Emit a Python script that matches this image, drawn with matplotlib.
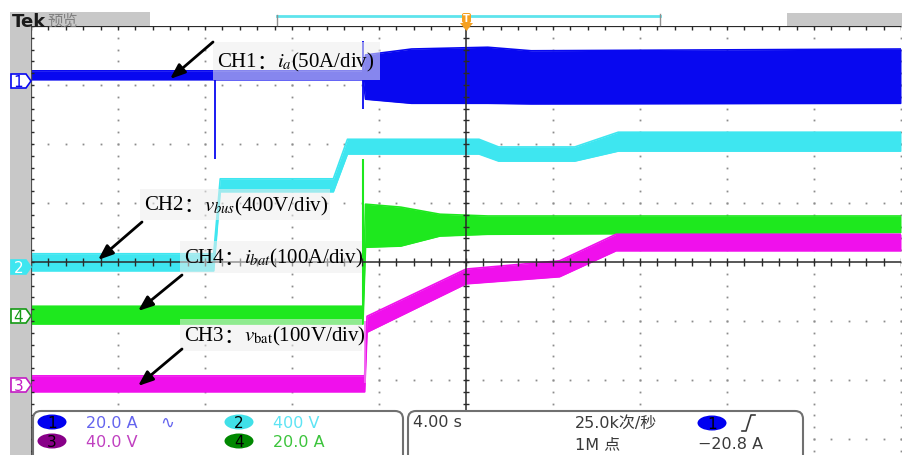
"""
redraw the scope capture of the charger start-up: phase current, bus voltage,
battery current and battery voltage on one Tek screen

run it with:
    python plot.py
"""

import matplotlib

matplotlib.use("Agg")
import matplotlib.pyplot as plt
import numpy as np
from matplotlib.patches import Ellipse, FancyBboxPatch, Polygon, Rectangle

plt.rcParams["mathtext.fontset"] = "stix"

# time axis of the scope: 10 divisions of 4 s, trigger in the middle
sec_per_div = 4.0
t_left, t_right = -20.0, 20.0

# every trace is a thick noisy band, so keep its upper and lower edge (divisions)
ch1_t = [-20, -4.72, -4.62, -2.5, 1.0, 3.0, 20]
ch1_hi = [3.24, 3.24, 3.51, 3.61, 3.64, 3.58, 3.61]
ch1_lo = [3.09, 3.09, 2.76, 2.69, 2.69, 2.68, 2.69]

ch2_t = [-20, -11.6, -11.3, -6.1, -5.45, 0.6, 1.5, 5.0, 7.0, 20]
ch2_hi = [0.14, 0.14, 1.41, 1.41, 2.08, 2.08, 1.95, 1.95, 2.20, 2.20]
ch2_lo = [-0.15, -0.15, 1.19, 1.19, 1.83, 1.83, 1.71, 1.71, 1.88, 1.88]

ch4_t = [-20, -4.74, -4.62, -3.0, -1.2, 1.0, 20]
ch4_hi = [-0.75, -0.75, 0.98, 0.93, 0.81, 0.78, 0.78]
ch4_lo = [-1.05, -1.05, 0.25, 0.27, 0.44, 0.47, 0.50]

ch3_t = [-20, -4.66, -4.55, 0.0, 4.3, 6.9, 20]
ch3_hi = [-1.93, -1.93, -0.92, -0.12, 0.02, 0.47, 0.47]
ch3_lo = [-2.20, -2.20, -1.19, -0.37, -0.25, 0.19, 0.19]

# single fast spikes that stick out of the bands
ch1_spike_t = [-11.54, -4.72]
ch1_spike_top = [3.10, 3.75]
ch1_spike_bottom = [1.75, 2.59]
ch4_spike_t = [-4.74]
ch4_spike_top = [1.75]
ch4_spike_bottom = [-0.90]
ch3_spike_t = [-4.64]
ch3_spike_top = [-1.00]
ch3_spike_bottom = [-2.05]

# annotation texts: channel, separator, signal and scale
label_ch1 = ["CH1", "：", "$i_a$(50A/div)"]
label_ch2 = ["CH2", "：", "$v_{bus}$(400V/div)"]
label_ch4 = ["CH4", "：", "$i_{bat}$(100A/div)"]
label_ch3 = ["CH3", "：", "$v_{\\mathrm{bat}}$(100V/div)"]

# readout at the bottom of the screen
channel_names = ["1", "2", "3", "4"]
channel_scales = ["20.0 A", "400 V", "40.0 V", "20.0 A"]
timebase = "4.00 s"
sample_rate = "25.0k次/秒"
record_length = "1M 点"
trigger_level = "−20.8 A"

blue = "#0808f0"
cyan = "#3ee6f0"
green = "#1ee81e"
magenta = "#f010ec"

W, H = 903, 456
fig = plt.figure(figsize=(W / 100, H / 100), dpi=100)

# graticule: 59 px per division vertically, centre line at y=263 px
px_div_y = 59.0
top_px, centre_px = 27, 263
y_top = 4.0
y_bottom = (centre_px - H) / px_div_y
ax = fig.add_axes([31 / W, 0, 870 / W, (H - top_px) / H])
ax.set_xlim(t_left, t_right)
ax.set_ylim(y_bottom, y_top)
ax.axis("off")

# dotted graticule
grid_col = "#8c8c8c"
major_t = np.arange(-16, 20.1, sec_per_div)
major_t = major_t[major_t != 0]
small_y = np.arange(-4, 4.01, 0.2)
for t in major_t:
    ax.plot(np.full(small_y.size, t), small_y, ls="none", marker="s",
            ms=1.3, color=grid_col, mec="none", zorder=1)
small_t = np.arange(t_left, t_right + 0.01, 0.8)
for y in [-3, -2, -1, 1, 2, 3]:
    ax.plot(small_t, np.full(small_t.size, y), ls="none", marker="s",
            ms=1.3, color=grid_col, mec="none", zorder=1)

# the four traces, bands first then the spikes
for tt, hi, lo, col in [(ch2_t, ch2_hi, ch2_lo, cyan),
                        (ch4_t, ch4_hi, ch4_lo, green),
                        (ch3_t, ch3_hi, ch3_lo, magenta),
                        (ch1_t, ch1_hi, ch1_lo, blue)]:
    ax.fill_between(tt, lo, hi, color=col, lw=0, zorder=2)
    ax.plot(tt, hi, color=col, lw=1.2, zorder=2)
    ax.plot(tt, lo, color=col, lw=1.2, zorder=2)

ax.vlines(ch4_spike_t, ch4_spike_bottom, ch4_spike_top, color=green, lw=1.5, zorder=2)
ax.vlines(ch3_spike_t, ch3_spike_bottom, ch3_spike_top, color="#f070f0", lw=1.2, zorder=2)
ax.vlines(ch1_spike_t, ch1_spike_bottom, ch1_spike_top, color=blue, lw=1.3, zorder=3)

# centre cross with its small ticks
axis_col = "#2a2a2a"
ax.axhline(0, color=axis_col, lw=1.1, zorder=4)
ax.axvline(0, color=axis_col, lw=1.1, zorder=4)
ax.vlines(small_t, -0.06, 0.06, color=axis_col, lw=1, zorder=4)
ax.hlines(small_y, -0.16, 0.16, color=axis_col, lw=1, zorder=4)

# screen border on top and left
ax.axhline(y_top, color=axis_col, lw=1.6, zorder=4)
ax.vlines(small_t, y_top - 0.07, y_top, color=axis_col, lw=1, zorder=4)
ax.axvline(t_left, color="#505050", lw=1.6, zorder=4)
ax.hlines(small_y, t_left, t_left + 0.12, color=axis_col, lw=1, zorder=4)

# everything around the graticule is drawn in screen pixels
ov = fig.add_axes([0, 0, 1, 1])
ov.set_xlim(0, W)
ov.set_ylim(H, 0)
ov.axis("off")
ov.patch.set_alpha(0)

# grey frame of the Tek screen
ov.add_patch(Rectangle((10, 13), 21, H - 13, color="#c8c8c8", lw=0))
ov.add_patch(Rectangle((10, 13), 140, 14, color="#c8c8c8", lw=0))
ov.add_patch(Rectangle((787, 14), W - 787, 13, color="#c8c8c8", lw=0))
ov.text(12, 27, "Tek", fontsize=13, fontweight="bold", color="#1a1a1a",
        va="baseline", family="DejaVu Sans")
ov.text(47, 26, "预览", fontsize=11, color="#808080", va="baseline",
        family=["Noto Sans CJK SC", "DejaVu Sans"])
ov.add_patch(Rectangle((0, 0), 160, 13, color="white", lw=0, zorder=3))

# horizontal position bar and trigger flag
ov.plot([277, 660], [17, 17], color="#5ee4ec", lw=2)
ov.plot([277, 277], [16, 26], color="#909090", lw=1)
ov.plot([660, 660], [15, 26], color="#909090", lw=1)
ov.add_patch(FancyBboxPatch((462, 14), 9, 10, boxstyle="round,pad=0,rounding_size=2",
                            fc="#f5a020", ec="none", zorder=5))
ov.add_patch(Polygon([(460, 24), (473, 24), (466.5, 32)], closed=True,
                     fc="#f5a020", ec="none", zorder=5))
ov.text(466.5, 19.5, "T", fontsize=7, color="white", ha="center", va="center",
        fontweight="bold", zorder=6)

# channel ground markers at the left edge
for name, cy, edge, face, txt in [("1", 82, blue, "white", blue),
                                  ("2", 268, cyan, cyan, "white"),
                                  ("4", 317, "#149a14", "white", "#149a14"),
                                  ("3", 386, "#c41cc4", "white", "#c41cc4")]:
    pts = [(11, cy - 7), (26, cy - 7), (31, cy), (26, cy + 7), (11, cy + 7)]
    ov.add_patch(Polygon(pts, closed=True, fc=face, ec=edge, lw=1.2, zorder=5))
    ov.text(18.5, cy + 0.5, name, fontsize=11, color=txt, ha="center", va="center",
            family="DejaVu Sans", zorder=6)

# label boxes (see-through, the traces show lighter behind them) and arrows
renderer = fig.canvas.get_renderer()
part_fonts = ["Liberation Serif", "Noto Sans CJK SC", "Liberation Serif"]


def put_label(parts, x, y):
    # write the pieces one after the other, the colon needs the CJK font
    for piece, family in zip(parts, part_fonts):
        txt = ov.text(x, y, piece, fontsize=15, color="black", va="center",
                      ha="left", family=family, zorder=6)
        x = txt.get_window_extent(renderer).x1


for parts, x0, y0, x1, y1 in [(label_ch1, 213, 43, 380, 81),
                              (label_ch2, 140, 190, 330, 221),
                              (label_ch4, 180, 242, 362, 274),
                              (label_ch3, 180, 320, 362, 352)]:
    ov.add_patch(Rectangle((x0, y0), x1 - x0, y1 - y0, fc="#eeeeee",
                           alpha=0.55, lw=0, zorder=4))
    put_label(parts, x0 + 4, (y0 + y1) / 2 + 0.5)

for tail, head in [((213, 43), (170, 80)),
                   ((142, 223), (98, 261)),
                   ((182, 276), (138, 312)),
                   ((182, 350), (138, 387))]:
    ov.annotate("", xy=head, xytext=tail,
                arrowprops=dict(arrowstyle="-|>,head_length=0.9,head_width=0.35",
                                color="black", lw=2, shrinkA=0, shrinkB=0),
                zorder=7)

# readout panel
panel_edge = "#707070"
ov.add_patch(FancyBboxPatch((33, 412), 370, 60, boxstyle="round,pad=0,rounding_size=8",
                            fc="white", ec=panel_edge, lw=1.5, zorder=8))
ov.add_patch(FancyBboxPatch((408, 412), 395, 60, boxstyle="round,pad=0,rounding_size=8",
                            fc="white", ec=panel_edge, lw=1.5, zorder=8))

read_font = ["DejaVu Sans", "Noto Sans CJK SC"]
badge_pos = [(52, 423), (239, 423), (52, 442), (239, 442)]
badge_fill = ["#0000f0", "#40e0e8", "#880088", "#008800"]
scale_col = ["#6464ee", "#5ee4f4", "#c040c0", "#3cc43c"]
for name, scale, (bx, by), fill, col in zip(channel_names, channel_scales,
                                             badge_pos, badge_fill, scale_col):
    ov.add_patch(Ellipse((bx, by), 29, 15, fc=fill, ec="none", zorder=9))
    ov.text(bx, by + 0.5, name, fontsize=11, color="black", ha="center",
            va="center", family=read_font, zorder=10)
    ov.text(bx + 34, by + 0.5, scale, fontsize=11.5, color=col, ha="left",
            va="center", family=read_font, zorder=10)
ov.text(160, 423, "∿", fontsize=12, color="#6464ee", ha="left", va="center",
        family="DejaVu Sans", zorder=10)

dark = "#3a3a3a"
ov.text(413, 423, timebase, fontsize=11.5, color=dark, ha="left", va="center",
        family=read_font, zorder=10)
ov.text(575, 423, sample_rate, fontsize=11.5, color=dark, ha="left", va="center",
        family=read_font, zorder=10)
ov.text(575, 445, record_length, fontsize=11.5, color=dark, ha="left", va="center",
        family=read_font, zorder=10)
ov.add_patch(Ellipse((712, 424), 29, 15, fc="#0000f0", ec="none", zorder=9))
ov.text(712, 424.5, "1", fontsize=11, color="black", ha="center", va="center",
        family=read_font, zorder=10)
ov.plot([742, 746, 751, 755], [432, 432, 416, 416], color=dark, lw=1.2, zorder=10)
ov.text(698, 445, trigger_level, fontsize=11.5, color=dark, ha="left", va="center",
        family=read_font, zorder=10)

fig.savefig("out.png", dpi=100)
